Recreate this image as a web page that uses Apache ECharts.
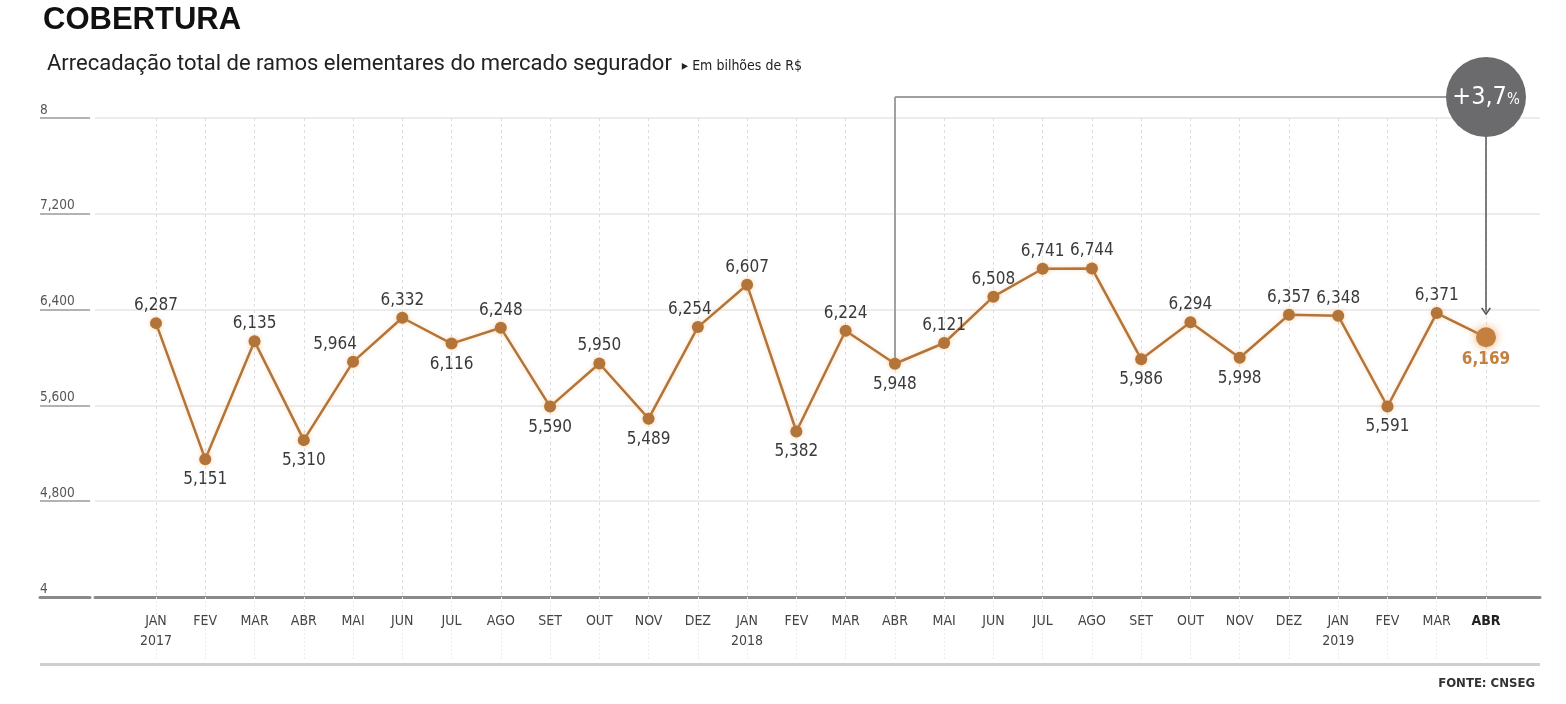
<!DOCTYPE html>
<html><head><meta charset="utf-8">
<script src="https://cdn.jsdelivr.net/npm/echarts@6/dist/echarts.min.js"></script>
<style>html,body{margin:0;padding:0;background:#fff}#c{width:1566px;height:704px}</style>
</head><body><div id="c"></div>
<script>
const categories = ['JAN\n2017','FEV','MAR','ABR','MAI','JUN','JUL','AGO','SET','OUT','NOV','DEZ',
  'JAN\n2018','FEV','MAR','ABR','MAI','JUN','JUL','AGO','SET','OUT','NOV','DEZ',
  'JAN\n2019','FEV','MAR','ABR'];
const values = [6287,5151,6135,5310,5964,6332,6116,6248,5590,5950,5489,6254,
  6607,5382,6224,5948,6121,6508,6741,6744,5986,6294,5998,6357,
  6348,5591,6371,6169];
const yTickLabels = ['4','4,800','5,600','6,400','7,200','8'];
const labelSide = ['top','bottom','top','bottom','top','top','bottom','top','bottom','top','bottom','top',
  'top','bottom','top','bottom','top','top','top','top','bottom','top','bottom','top',
  'top','bottom','top','bottom'];
const changeText = '+3,7';
const fromIndex = 15, toIndex = 27;
const annotLevel = 8175, arrowEnd = 6385;

const FONT = '"Liberation Sans Narrow","DejaVu Sans Condensed","Liberation Sans",sans-serif';
const lineColor = '#b3743a';
const Y0 = 4000, Y1 = 8000;
const plotBottom = 107;

const fmtNum = v => { const s = String(v); return s.slice(0, s.length-3) + ',' + s.slice(-3); };

const seriesData = values.map((v, i) => {
  const last = i === values.length - 1;
  const d = {
    value: v,
    label: {
      position: labelSide[i],
      distance: labelSide[i] === 'top' ? 3 : 6,
      offset: i === 4 ? [-18, 0] : (i === 11 ? [-8, 0] : [0, 0])
    }
  };
  if (last) {
    d.symbolSize = 20;
    d.itemStyle = { color: '#c4803f', shadowColor: 'rgba(230,150,70,0.8)', shadowBlur: 10 };
    d.label.color = '#c4803f';
    d.label.fontWeight = 'bold';
    d.label.distance = 4;
  }
  return d;
});

const chart = echarts.init(document.getElementById('c'));
chart.setOption({
  animation: false,
  title: [{
    text: 'COBERTURA', left: 38, top: 0,
    textStyle: { fontFamily: '"Liberation Sans",Arial,sans-serif', fontSize: 31, fontWeight: 'bold', color: '#111' }
  }, {
    text: '{a|Arrecadação total de ramos elementares do mercado segurador}  {b|▸ Em bilhões de R$}',
    left: 42, top: 48,
    textStyle: {
      fontWeight: 'normal',
      rich: {
        a: { fontFamily: 'Roboto,"Liberation Sans",sans-serif', fontSize: 22, fontWeight: 'normal', color: '#222' },
        b: { fontFamily: FONT, fontSize: 14, fontWeight: 'normal', color: '#222', padding: [4,0,0,0] }
      }
    }
  }, {
    text: 'FONTE: CNSEG', right: 26, top: 672,
    textStyle: { fontFamily: FONT, fontSize: 13, fontWeight: 'bold', color: '#333' }
  }],
  graphic: [{
    type: 'rect', shape: { x: 40, y: 663, width: 1500, height: 3 }, style: { fill: '#cfcfcf' }
  }],
  grid: [
    { left: 40, width: 50, top: 118, bottom: plotBottom },
    { left: 95, right: 26, top: 118, bottom: plotBottom },
    { left: 156, right: 80, top: 118, bottom: plotBottom },
    { left: 156, right: 80, top: 70.1, bottom: plotBottom }
  ],
  xAxis: [
    { gridIndex: 0, type: 'value', min: 0, max: 1, axisLabel: { show: false }, splitLine: { show: false }, axisTick: { show: false },
      axisLine: { show: true, lineStyle: { color: '#8a8a8a', width: 3 } } },
    { gridIndex: 1, type: 'value', min: 0, max: 1, axisLabel: { show: false }, splitLine: { show: false }, axisTick: { show: false },
      axisLine: { show: true, lineStyle: { color: '#8a8a8a', width: 3 } } },
    { gridIndex: 2, type: 'category', data: categories, boundaryGap: false,
      axisLine: { show: false },
      axisTick: { show: true, interval: 0, length: 64, inside: false, lineStyle: { color: '#ececec', type: [2,2], width: 1 } },
      splitLine: { show: true, interval: 0, lineStyle: { color: '#dedede', type: [3,3], width: 1 } },
      axisLabel: {
        interval: 0, margin: 14, fontFamily: FONT, fontSize: 14, color: '#444', lineHeight: 20,
        formatter: (v, i) => i === categories.length - 1 ? '{b|' + v + '}' : v,
        rich: { b: { fontFamily: FONT, fontSize: 14, fontWeight: 'bold', color: '#222' } }
      }
    },
    { gridIndex: 3, type: 'category', data: categories, boundaryGap: false, show: false }
  ],
  yAxis: [
    { gridIndex: 0, type: 'value', min: Y0, max: Y1, interval: 800,
      axisLine: { show: false }, axisTick: { show: false },
      splitLine: { show: true, lineStyle: { color: '#9a9a9a', width: 1.5 } },
      axisLabel: { inside: true, margin: 0, verticalAlign: 'bottom', padding: [0,0,1,0], fontFamily: FONT, fontSize: 13.5, color: '#555',
        formatter: (v) => yTickLabels[Math.round((v - Y0) / 800)] } },
    { gridIndex: 1, type: 'value', min: Y0, max: Y1, interval: 800,
      axisLine: { show: false }, axisTick: { show: false }, axisLabel: { show: false },
      splitLine: { show: true, lineStyle: { color: '#e6e6e6', width: 1.5 } } },
    { gridIndex: 2, type: 'value', min: Y0, max: Y1, show: false, splitLine: { show: false } },
    { gridIndex: 3, type: 'value', min: Y0, max: 8400, show: false, splitLine: { show: false } }
  ],
  series: [{
    type: 'line', xAxisIndex: 3, yAxisIndex: 3,
    data: seriesData,
    symbol: 'circle', symbolSize: 12,
    lineStyle: { color: lineColor, width: 2.5, shadowColor: 'rgba(240,170,90,0.35)', shadowBlur: 4 },
    itemStyle: { color: lineColor, shadowColor: 'rgba(240,170,90,0.5)', shadowBlur: 4 },
    label: { show: true, fontFamily: FONT, fontSize: 17, color: '#3a3a3a', formatter: p => fmtNum(p.value) },
    z: 5,
    markLine: {
      silent: true, symbol: 'none', animation: false, label: { show: false },
      lineStyle: { color: '#a0a0a0', width: 2, type: 'solid' },
      data: [
        [{ coord: [fromIndex, values[fromIndex]] }, { coord: [fromIndex, annotLevel] }],
        [{ coord: [fromIndex, annotLevel] }, { coord: [toIndex, annotLevel] }],
        [{ coord: [toIndex, annotLevel], symbol: 'none' },
         { coord: [toIndex, arrowEnd], symbol: 'path://M0,9 L5,0 L10,9 L8.6,10 L5,3.2 L1.4,10 Z', symbolSize: [10, 8],
           lineStyle: { color: '#555', width: 1.5 } }]
      ]
    }
  }, {
    type: 'scatter', xAxisIndex: 3, yAxisIndex: 3, z: 10,
    data: [[toIndex, annotLevel]],
    symbolSize: 80,
    itemStyle: { color: '#6b6b6e', opacity: 1 },
    label: { show: true, position: 'inside', formatter: '{a|' + changeText + '}{b|%}',
      rich: { a: { fontFamily: FONT, fontSize: 25, color: '#fff' }, b: { fontFamily: FONT, fontSize: 15, color: '#fff', padding: [6,0,0,0] } } }
  }]
});
</script></body></html>
